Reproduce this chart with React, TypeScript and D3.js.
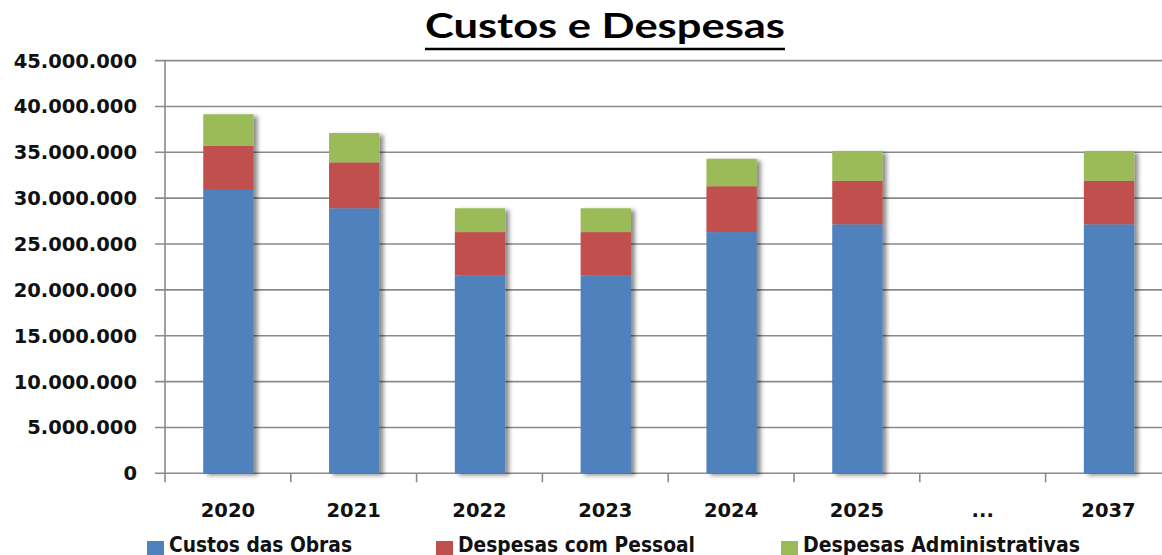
import React from "react";
import * as d3 from "d3";

const categories = ["2020", "2021", "2022", "2023", "2024", "2025", "...", "2037"];
const custosObras = [30.9e6, 28.9e6, 21.55e6, 21.55e6, 26.3e6, 27.15e6, 0, 27.15e6];
const despesasPessoal = [4.8e6, 5.0e6, 4.75e6, 4.75e6, 5.0e6, 4.75e6, 0, 4.75e6];
const despesasAdmin = [3.45e6, 3.2e6, 2.6e6, 2.6e6, 3.0e6, 3.25e6, 0, 3.25e6];
const seriesNames = ["Custos das Obras", "Despesas com Pessoal", "Despesas Administrativas"];
const seriesColors = ["#4F81BD", "#C0504D", "#9BBB59"];
const yTicks = [0, 5e6, 10e6, 15e6, 20e6, 25e6, 30e6, 35e6, 40e6, 45e6];
const title = "Custos e Despesas";

const W = 1162;
const H = 555;

export default function App() {
  const left = 165;
  const step = 125.8;
  const x = d3
    .scaleBand<string>()
    .domain(categories)
    .range([left, left + step * categories.length])
    .padding(0);
  const y = d3.scaleLinear().domain([0, 45e6]).range([473.3, 60.6]);
  const locale = d3.formatLocale({ decimal: ",", thousands: ".", grouping: [3], currency: ["R$", ""] });
  const fmt = locale.format(",d");

  const rows = categories.map((c, i) => ({
    cat: c,
    s0: custosObras[i],
    s1: despesasPessoal[i],
    s2: despesasAdmin[i],
  }));
  const stack = d3.stack<any>().keys(["s0", "s1", "s2"]);
  const stacked = stack(rows);

  const bw = x.bandwidth() * 0.4;
  const font = "'DejaVu Sans', Verdana, sans-serif";
  const legendX = [147, 436, 781];
  const legendW = [183, 237, 277];

  return (
    <svg
      width={W}
      height={H}
      style={{ position: "absolute", left: 0, top: 0, background: "#fff" }}
    >
      <defs>
        <filter id="shadow" x="-20%" y="-5%" width="150%" height="115%">
          <feDropShadow dx="4" dy="2" stdDeviation="2.2" floodColor="#000" floodOpacity="0.45" />
        </filter>
      </defs>
      <rect x={0} y={0} width={W} height={H} fill="#fff" />
      {/* title */}
      <text
        x={605}
        y={38}
        textAnchor="middle"
        fontFamily="Lato, 'Open Sans', sans-serif"
        fontWeight="bold"
        fontSize={35}
        textLength={360}
        lengthAdjust="spacingAndGlyphs"
        fill="#000"
      >
        {title}
      </text>
      <line x1={425} x2={785} y1={49} y2={49} stroke="#000" strokeWidth={2.5} />

      {/* gridlines and y ticks */}
      {yTicks.map((t) => (
        <g key={t}>
          <line x1={155} x2={W} y1={y(t)} y2={y(t)} stroke="#8a8a8a" strokeWidth={1.6} />
          <text
            x={137}
            y={y(t)}
            dy="0.36em"
            textAnchor="end"
            fontFamily={font}
            fontWeight="bold"
            fontSize={19.5}
            fill="#111"
          >
            {fmt(t)}
          </text>
        </g>
      ))}
      {/* y axis */}
      <line x1={left} x2={left} y1={y(45e6)} y2={y(0)} stroke="#8a8a8a" strokeWidth={1.6} />
      {/* x ticks */}
      {categories.map((c) => (
        <line
          key={"t" + c}
          x1={x(c)!}
          x2={x(c)!}
          y1={y(0)}
          y2={y(0) + 9}
          stroke="#8a8a8a"
          strokeWidth={1.6}
        />
      ))}

      {/* bars */}
      {categories.map((c, i) => (
        <g key={"b" + c} filter="url(#shadow)">
          {stacked.map((s, si) => {
            const d = s[i];
            const h = y(d[0]) - y(d[1]);
            if (h <= 0) return null;
            return (
              <rect
                key={si}
                x={x(c)! + (x.bandwidth() - bw) / 2 + 0.5}
                y={y(d[1])}
                width={bw}
                height={h}
                fill={seriesColors[si]}
              />
            );
          })}
        </g>
      ))}

      {/* x labels */}
      {categories.map((c) => (
        <text
          key={"l" + c}
          x={x(c)! + x.bandwidth() / 2}
          y={517}
          textAnchor="middle"
          fontFamily={font}
          fontWeight="bold"
          fontSize={19.5}
          fill="#111"
        >
          {c}
        </text>
      ))}

      {/* legend */}
      {seriesNames.map((n, i) => (
        <g key={n}>
          <rect x={legendX[i]} y={541} width={17} height={17} fill={seriesColors[i]} />
          <text
            x={legendX[i] + 22}
            y={552}
            fontFamily={font}
            fontWeight="bold"
            fontSize={20.5}
            textLength={legendW[i]}
            lengthAdjust="spacingAndGlyphs"
            fill="#111"
          >
            {n}
          </text>
        </g>
      ))}
    </svg>
  );
}
